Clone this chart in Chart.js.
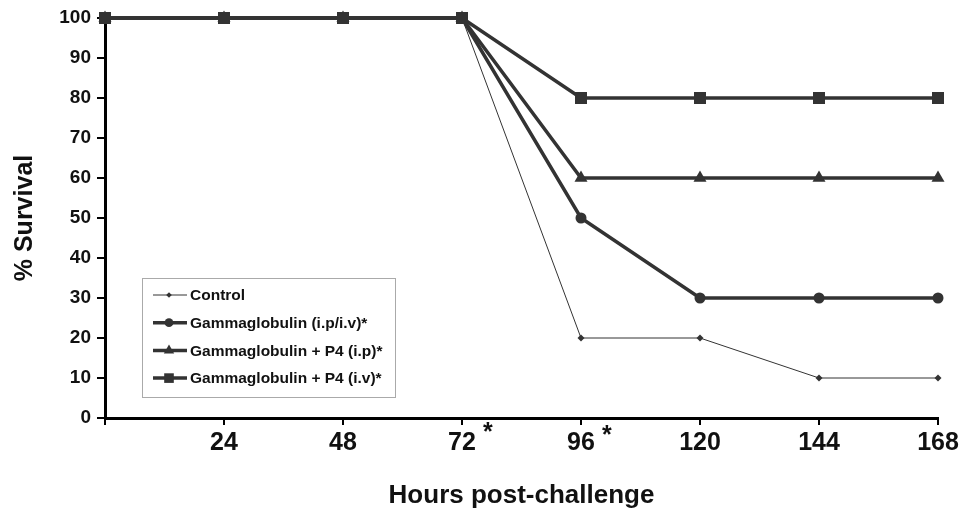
<!DOCTYPE html>
<html>
<head>
<meta charset="utf-8">
<script src="https://cdn.jsdelivr.net/npm/chart.js@4"></script>
<style>
  html, body { margin: 0; padding: 0; background: #fff; }
  #wrap { position: relative; width: 969px; height: 511px; }
</style>
</head>
<body>
<div id="wrap"><canvas id="chart" width="969" height="511"></canvas></div>
<script>
// ---- data ----
const hours = [0, 24, 48, 72, 96, 120, 144, 168];
const starredHours = [72, 96];

const control = [100, 100, 100, 100, 20, 20, 10, 10];
const gammaIpIv = [100, 100, 100, 100, 50, 30, 30, 30];
const gammaP4Ip = [100, 100, 100, 100, 60, 60, 60, 60];
const gammaP4Iv = [100, 100, 100, 100, 80, 80, 80, 80];

const seriesNames = [
  'Control',
  'Gammaglobulin (i.p/i.v)*',
  'Gammaglobulin + P4 (i.p)*',
  'Gammaglobulin + P4 (i.v)*',
];

const INK = '#333333';
const FONT = '"Liberation Sans", Arial, sans-serif';

const toPoints = (vals) => vals.map((v, i) => ({ x: hours[i], y: v }));

// later series are drawn on top (squares cover the shared 100% points)
const datasets = [
  { label: seriesNames[0], data: toPoints(control), borderWidth: 1, pointStyle: 'rectRot', pointRadius: 3.5, order: 3 },
  { label: seriesNames[1], data: toPoints(gammaIpIv), borderWidth: 3.5, pointStyle: 'circle', pointRadius: 5.5, order: 2 },
  { label: seriesNames[2], data: toPoints(gammaP4Ip), borderWidth: 3.5, pointStyle: 'triangle', pointRadius: 7.5, order: 1 },
  { label: seriesNames[3], data: toPoints(gammaP4Iv), borderWidth: 3.5, pointStyle: 'rect', pointRadius: 8.5, order: 0 },
].map(d => ({
  ...d,
  borderColor: INK,
  backgroundColor: INK,
  pointBackgroundColor: INK,
  pointBorderColor: INK,
  pointBorderWidth: 0,
  tension: 0,
}));

// raised asterisks next to some hour labels
const asteriskPlugin = {
  id: 'asterisks',
  afterDraw(chart) {
    const ctx = chart.ctx;
    const xs = chart.scales.x;
    ctx.save();
    ctx.fillStyle = '#111';
    ctx.font = `bold 25px ${FONT}`;
    ctx.textAlign = 'left';
    ctx.textBaseline = 'top';
    starredHours.forEach((h, i) => {
      const px = xs.getPixelForValue(h);
      ctx.fillText('*', px + 21, 421 + i * 3);
    });
    ctx.restore();
  },
};

// boxed legend sitting inside the plot area
const boxLegend = {
  id: 'boxLegend',
  afterDraw(chart) {
    const ctx = chart.ctx;
    const x0 = 142, y0 = 278, w = 253, h = 119;
    ctx.save();
    ctx.fillStyle = '#fff';
    ctx.fillRect(x0, y0, w, h);
    ctx.strokeStyle = '#aaa';
    ctx.lineWidth = 1;
    ctx.strokeRect(x0 + 0.5, y0 + 0.5, w, h);
    chart.data.datasets.forEach((ds, i) => {
      const y = y0 + 17 + i * 27.7;
      ctx.strokeStyle = INK;
      ctx.lineWidth = ds.borderWidth;
      ctx.beginPath();
      ctx.moveTo(x0 + 11, y);
      ctx.lineTo(x0 + 45, y);
      ctx.stroke();
      ctx.fillStyle = INK;
      Chart.helpers.drawPoint(ctx, { pointStyle: ds.pointStyle, radius: ds.pointRadius * 0.8, borderWidth: 0 }, x0 + 27, y);
      ctx.fillStyle = '#111';
      ctx.font = `bold 15.5px ${FONT}`;
      ctx.textAlign = 'left';
      ctx.textBaseline = 'middle';
      ctx.fillText(ds.label, x0 + 48, y + 1);
    });
    ctx.restore();
  },
};

new Chart(document.getElementById('chart'), {
  type: 'line',
  data: { datasets },
  plugins: [asteriskPlugin, boxLegend],
  options: {
    responsive: false,
    animation: false,
    clip: false,
    layout: { padding: { left: 0, right: 31, top: 18, bottom: 0 } },
    plugins: { legend: { display: false }, tooltip: { enabled: false } },
    scales: {
      x: {
        type: 'linear',
        min: 0,
        max: 168,
        afterFit: (s) => { s.height = 93; },
        border: { color: '#000', width: 3 },
        grid: { drawOnChartArea: false, drawTicks: true, tickLength: 7, color: '#000', lineWidth: 2 },
        ticks: {
          stepSize: 24,
          color: '#111',
          padding: 3,
          maxRotation: 0,
          font: { family: FONT, size: 25, weight: 'bold' },
          callback: (v) => (v === 0 ? '' : String(v)),
        },
        title: {
          display: true,
          text: 'Hours post-challenge',
          color: '#111',
          font: { family: FONT, size: 26, weight: 'bold' },
          padding: { top: 0, bottom: 0 },
        },
      },
      y: {
        min: 0,
        max: 100,
        afterFit: (s) => { s.width = 105; },
        border: { color: '#000', width: 3 },
        grid: { drawOnChartArea: false, drawTicks: true, tickLength: 8, color: '#000', lineWidth: 2 },
        ticks: {
          stepSize: 10,
          color: '#111',
          padding: 6,
          font: { family: FONT, size: 19, weight: 'bold' },
        },
        title: {
          display: true,
          text: '% Survival',
          color: '#111',
          font: { family: FONT, size: 25, weight: 'bold' },
          padding: { top: 10, bottom: 0 },
        },
      },
    },
  },
});
</script>
</body>
</html>
